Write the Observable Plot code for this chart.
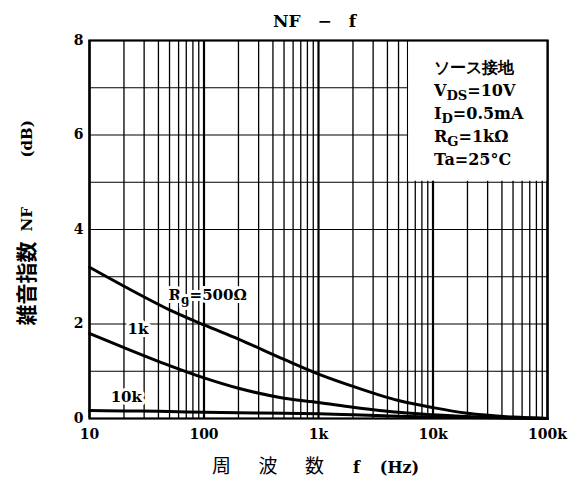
<!DOCTYPE html>
<html>
<head>
<meta charset="utf-8">
<script src="https://cdn.jsdelivr.net/npm/d3@7"></script>
<script src="https://cdn.jsdelivr.net/npm/@observablehq/plot@0.6"></script>
<style>
  body { margin: 0; background: #fff; }
</style>
</head>
<body>
<div id="chart"></div>
<script>
// ---- data ----
const freqs   = [10, 20, 50, 100, 200, 500, 1000, 2000, 5000, 10000, 20000, 50000, 100000];
const nfRg500 = [3.2, 2.8, 2.3, 1.98, 1.68, 1.25, 0.94, 0.68, 0.38, 0.23, 0.11, 0.03, 0];
const nfRg1k  = [1.8, 1.5, 1.12, 0.86, 0.64, 0.43, 0.34, 0.24, 0.13, 0.08, 0.04, 0.01, 0];
const nfRg10k = [0.17, 0.16, 0.15, 0.13, 0.12, 0.11, 0.1, 0.08, 0.05, 0.03, 0.02, 0.01, 0];
const seriesNames = ["500", "1k", "10k"];

const xTickValues = [10, 100, 1000, 10000, 100000];
const xTickLabels = ["10", "100", "1k", "10k", "100k"];
const yTickValues = [0, 2, 4, 6, 8];
const yGridValues = [1, 2, 3, 4, 5, 6, 7];
const gridMantissas = [1, 2, 3, 4, 5, 6, 7, 8, 9];
const gridDecades = [10, 100, 1000, 10000];

const curveLabels = [
  {f: 49, nf: 2.6, text: "R_g=500Ω"},
  {f: 21.5, nf: 1.9, text: "1k"},
  {f: 15.3, nf: 0.46, text: "10k"}
];
const conditionLines = ["V_{DS}=10V", "I_D=0.5mA", "R_G=1kΩ", "Ta=25°C"];
const conditionTitle = "ソース接地";
const titleText = "NF\u2003−\u2003f";
const yLabelJa = "雑音指数", yLabelSym = "NF", yLabelUnit = "(dB)";
const xLabelJa = ["周", "波", "数"], xLabelSym = "f", xLabelUnit = "(Hz)";

// ---- build tables ----
const rows = freqs.flatMap((f, i) => [
  {f, nf: nfRg500[i], s: seriesNames[0]},
  {f, nf: nfRg1k[i], s: seriesNames[1]},
  {f, nf: nfRg10k[i], s: seriesNames[2]}
]);
const gridX = gridDecades.flatMap(d => gridMantissas.map(m => m * d)).concat([100000]);
const isDecade = v => Math.abs(Math.log10(v) - Math.round(Math.log10(v))) < 1e-9;
const condRows = [conditionTitle, ...conditionLines].map((t, i) => ({t, i}));
const boxArea = [{x1: 6000, x2: 100000, y1: 5, y2: 8}];

const serif = "'DejaVu Serif', 'Liberation Serif', serif";
const cjk = "'Noto Sans CJK JP', sans-serif";

const chart = Plot.plot({
  width: 571,
  height: 485,
  marginLeft: 89,
  marginRight: 24,
  marginTop: 40,
  marginBottom: 67,
  style: {fontFamily: serif, fontSize: "14px", fontWeight: "bold", background: "white", color: "black"},
  x: {type: "log", domain: [10, 100000], label: null},
  y: {domain: [0, 8], label: null},
  marks: [
    Plot.ruleX(gridX, {stroke: "black", strokeWidth: d => isDecade(d) ? 2.2 : 1.3}),
    Plot.ruleY(yGridValues, {stroke: "black", strokeWidth: 1.2}),
    Plot.rect(boxArea, {x1: "x1", x2: "x2", y1: "y1", y2: "y2", fill: "white", insetLeft: 1, insetBottom: 1}),
    Plot.line(rows, {x: "f", y: "nf", z: "s", stroke: "black", strokeWidth: 3, curve: "monotone-x"}),
    Plot.text(curveLabels, {x: "f", y: "nf", text: "text", textAnchor: "start", fontSize: 15,
      fill: "black", stroke: "white", strokeWidth: 6, paintOrder: "stroke", strokeLinejoin: "round"}),
    Plot.text(condRows, {x: () => 10000, y: d => 7.43 - d.i * 0.49, text: "t", textAnchor: "start", dx: 1,
      fontSize: d => d.i === 0 ? 16 : 16,
      fontFamily: d => d.i === 0 ? cjk : serif,
      fontWeight: d => d.i === 0 ? "normal" : "bold"}),
    Plot.frame({stroke: "black", strokeWidth: 2.2}),
    Plot.axisX(xTickValues, {tickSize: 0, tickPadding: 11, fontSize: 14, label: null,
      tickFormat: d => xTickLabels[xTickValues.indexOf(d)]}),
    Plot.axisY(yTickValues, {tickSize: 0, tickPadding: 6, fontSize: 14, label: null}),
    // title
    Plot.text([titleText], {frameAnchor: "top", dx: -4, dy: -26, fontSize: 17}),
    // y label
    Plot.text([yLabelJa], {frameAnchor: "left", rotate: -90, dx: -62, dy: 96, fontSize: 21, fontFamily: cjk, fontWeight: "bold"}),
    Plot.text([yLabelSym], {frameAnchor: "left", rotate: -90, dx: -62, dy: 2, fontSize: 15}),
    Plot.text([yLabelUnit], {frameAnchor: "left", rotate: -90, dx: -62, dy: -72, fontSize: 15}),
    // x label
    ...xLabelJa.map((c, i) => Plot.text([c], {frameAnchor: "bottom", dx: -97 + i * 46.5, dy: 54, fontSize: 19, fontFamily: cjk, fontWeight: "normal"})),
    Plot.text([xLabelSym], {frameAnchor: "bottom", dx: 38, dy: 54, fontSize: 16}),
    Plot.text([xLabelUnit], {frameAnchor: "bottom", dx: 81, dy: 54, fontSize: 16})
  ]
});

// subscripts: "A_b..." or "A_{bc}..."
d3.select(chart).selectAll("text").each(function () {
  const t = this.textContent;
  if (!t || !t.includes("_")) return;
  const m = t.match(/^(.*?)_(?:\{([^}]*)\}|(.))(.*)$/);
  if (!m) return;
  const pre = m[1], sub = m[2] ?? m[3], post = m[4];
  const sel = d3.select(this);
  sel.text(null);
  sel.append("tspan").text(pre);
  sel.append("tspan").attr("dy", 4).attr("font-size", "0.82em").text(sub);
  sel.append("tspan").attr("dy", -4).text(post);
});

document.getElementById("chart").appendChild(chart);
</script>
</body>
</html>
